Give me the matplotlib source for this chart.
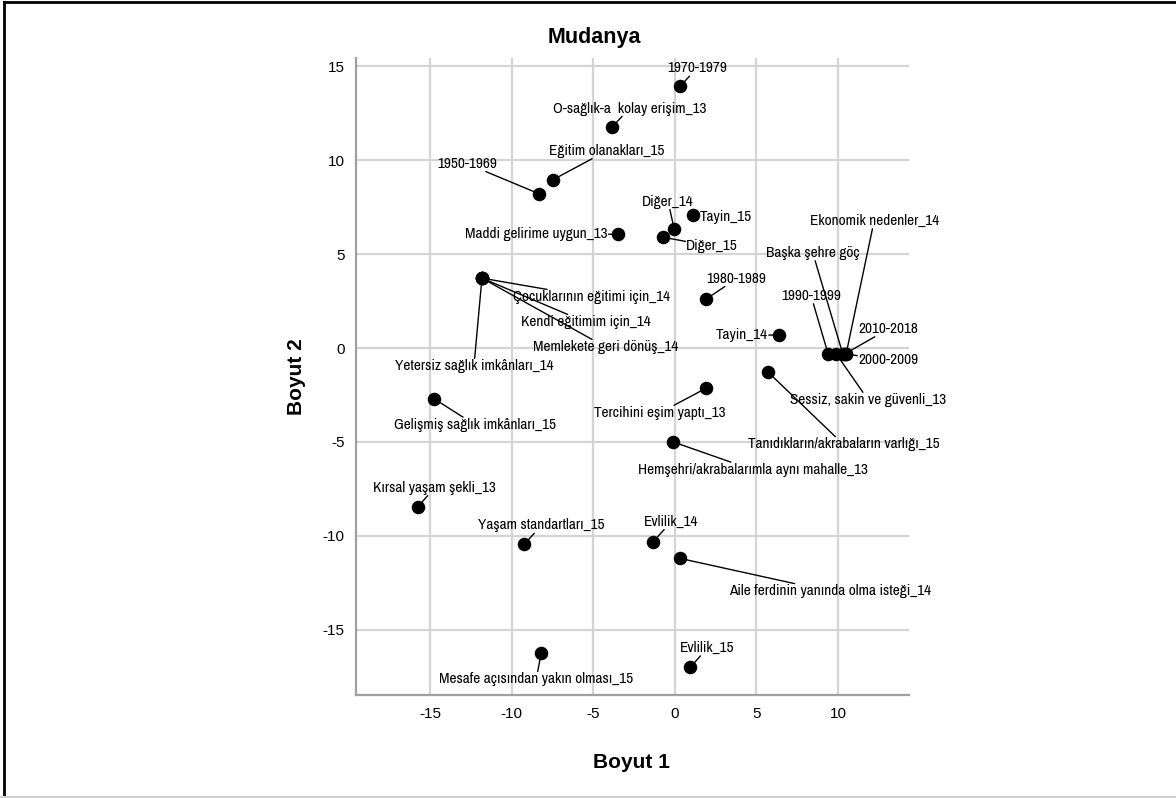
import matplotlib
matplotlib.use('Agg')
import matplotlib.pyplot as plt
from matplotlib.lines import Line2D

plt.rcParams['font.family'] = ['Liberation Sans', 'DejaVu Sans']
plt.rcParams['axes.unicode_minus'] = False

NARROW = ['Liberation Sans Narrow', 'Arial Narrow', 'Archivo Narrow', 'PT Sans Narrow',
          'Roboto Condensed', 'Liberation Sans', 'DejaVu Sans']

# Boyut 1 / Boyut 2 koordinatları
labels = [
    '1970-1979', 'O-sağlık-a  kolay erişim_13', 'Eğitim olanakları_15', '1950-1969',
    'Diğer_14', 'Tayin_15', 'Diğer_15', 'Maddi gelirime uygun_13',
    'Çocuklarının eğitimi için_14', 'Kendi eğitimim için_14', 'Memlekete geri dönüş_14',
    'Yetersiz sağlık imkânları_14', '1980-1989', 'Tayin_14',
    '1990-1999', 'Başka şehre göç', 'Ekonomik nedenler_14', '2010-2018', '2000-2009',
    'Sessiz, sakin ve güvenli_13', 'Tanıdıkların/akrabaların varlığı_15',
    'Tercihini eşim yaptı_13', 'Gelişmiş sağlık imkânları_15',
    'Hemşehri/akrabalarımla aynı mahalle_13', 'Kırsal yaşam şekli_13',
    'Yaşam standartları_15', 'Evlilik_14', 'Aile ferdinin yanında olma isteği_14',
    'Evlilik_15', 'Mesafe açısından yakın olması_15',
]
boyut1 = [0.31, -3.82, -7.49, -8.31, -0.04, 1.12, -0.72, -3.51,
          -11.82, -11.82, -11.82, -11.82, 1.94, 6.39,
          9.4, 10.3, 10.5, 10.4, 10.5, 9.9, 5.74,
          1.94, -14.74, -0.10, -15.76, -9.23, -1.33, 0.31, 0.96, -8.19]
boyut2 = [13.93, 11.79, 8.95, 8.21, 6.35, 7.09, 5.90, 6.06,
          3.72, 3.72, 3.72, 3.72, 2.62, 0.69,
          -0.32, -0.32, -0.32, -0.32, -0.32, -0.32, -1.30,
          -2.13, -2.71, -5.00, -8.46, -10.46, -10.32, -11.20, -16.99, -16.26]

x_ticks = [-15, -10, -5, 0, 5, 10]
y_ticks = [-15, -10, -5, 0, 5, 10, 15]

# etiket konumları (noktaya göre piksel kayması)
label_offsets = [
    (17, 18), (17, 18), (54, 29), (-72, 30), (-6, 27), (33, -2), (49, -9), (-81, 0),
    (110, -19), (104, -44), (124, -69), (-8, -88), (30, 20), (-37, 0),
    (-17, 58), (-30, 101), (28, 133), (44, 25), (42, -6), (32, -46), (75, -72),
    (-47, -25), (41, -26), (80, -28), (17, 19), (17, 19), (18, 20), (150, -33),
    (17, 19), (-5, -26),
]

fig = plt.figure(figsize=(11.76, 7.98), dpi=100)
ax = fig.add_axes([0.3023, 0.1285, 0.4703, 0.7985])

ax.scatter(boyut1, boyut2, s=95, color='black', zorder=3, linewidths=0)

for lab, x, y, (dx, dy) in zip(labels, boyut1, boyut2, label_offsets):
    ax.annotate(lab, (x, y), xytext=(dx, dy), textcoords='offset pixels',
                ha='center', va='center', fontsize=11, family=NARROW,
                bbox=dict(boxstyle='square,pad=0.05', fc='none', ec='none'),
                arrowprops=dict(arrowstyle='-', color='black', lw=1,
                                shrinkA=0, shrinkB=4),
                zorder=4)

ax.set_xlim(-19.57, 14.33)
ax.set_ylim(-18.5, 15.43)
ax.set_xticks(x_ticks)
ax.set_yticks(y_ticks)
ax.grid(True, color='#d4d4d4', lw=1.6)
ax.set_axisbelow(True)
ax.tick_params(length=0, labelsize=11, pad=8)
for side in ['top', 'right']:
    ax.spines[side].set_visible(False)
for side in ['left', 'bottom']:
    ax.spines[side].set_color('#a0a0a0')
    ax.spines[side].set_linewidth(1.6)

fig.text(594 / 1176, 1 - 37 / 798, 'Mudanya', ha='center', va='center',
         fontsize=15.5, fontweight='bold')
fig.text(631 / 1176, 1 - 762 / 798, 'Boyut 1', ha='center', va='center',
         fontsize=15, fontweight='bold')
fig.text(296 / 1176, 1 - 377 / 798, 'Boyut 2', ha='center', va='center',
         fontsize=15, fontweight='bold', rotation=90)

# dış çerçeve
fig.add_artist(Line2D([0.0035, 0.0035], [0, 0.998], transform=fig.transFigure, color='black', lw=2))
fig.add_artist(Line2D([0.0035, 1], [0.998, 0.998], transform=fig.transFigure, color='black', lw=2))
fig.add_artist(Line2D([0, 1], [0.001, 0.001], transform=fig.transFigure, color='#d0d0d0', lw=1.5))

fig.savefig('out.png', dpi=100)
